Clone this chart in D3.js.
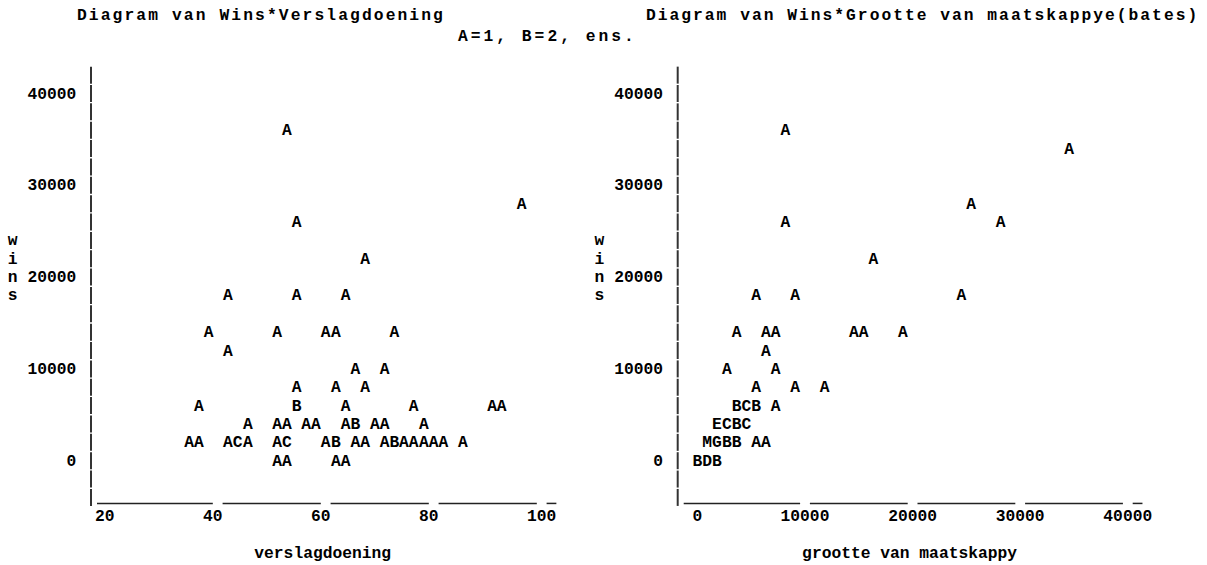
<!DOCTYPE html>
<html>
<head>
<meta charset="utf-8">
<script src="https://cdn.jsdelivr.net/npm/d3@7"></script>
<style>
  body { margin: 0; background: #fff; }
  text { font-family: "Courier New", "Liberation Mono", monospace; font-weight: bold; fill: #000; }
</style>
</head>
<body>
<div id="chart"></div>
<script>
// line printer style plots, letter = number of obs in a cell (A=1, B=2, ...)
var W = 1207, H = 565;
var cw = 9.78;       // character pitch
var fs = 16.3;       // font size giving that pitch

// y axis (wins), shared
var winsTicks = [0, 10000, 20000, 30000, 40000];

// left: wins vs verslagdoening
var verslagTicks = [20, 40, 60, 80, 100];
var verslagX = [52.8, 96.3, 54.6, 67.3, 41.9, 54.6, 63.7,
  38.3, 51.0, 60.0, 61.9, 72.7, 41.9, 65.5, 70.9, 54.6, 61.9, 67.3,
  36.5, 54.6, 63.7, 76.3, 90.8, 92.6,
  45.6, 51.0, 52.8, 56.4, 58.2, 63.7, 65.5, 69.1, 70.9, 78.2,
  34.7, 36.5, 41.9, 43.7, 45.6, 51.0, 52.8, 60.0, 61.9, 65.5, 67.3, 70.9, 72.7, 74.5, 76.3, 78.2, 80.0, 81.8, 85.4,
  51.0, 52.8, 61.9, 63.7];
var verslagWins = [36000, 28000, 26000, 22000, 18000, 18000, 18000,
  14000, 14000, 14000, 14000, 14000, 12000, 10000, 10000, 8000, 8000, 8000,
  6000, 6000, 6000, 6000, 6000, 6000,
  4000, 4000, 4000, 4000, 4000, 4000, 4000, 4000, 4000, 4000,
  2000, 2000, 2000, 2000, 2000, 2000, 2000, 2000, 2000, 2000, 2000, 2000, 2000, 2000, 2000, 2000, 2000, 2000, 2000,
  0, 0, 0, 0];
var verslagCount = [1, 1, 1, 1, 1, 1, 1,
  1, 1, 1, 1, 1, 1, 1, 1, 1, 1, 1,
  1, 2, 1, 1, 1, 1,
  1, 1, 1, 1, 1, 1, 2, 1, 1, 1,
  1, 1, 1, 3, 1, 1, 3, 1, 2, 1, 1, 1, 2, 1, 1, 1, 1, 1, 1,
  1, 1, 1, 1];

// right: wins vs grootte van maatskappy (bates)
var batesTicks = [0, 10000, 20000, 30000, 40000];
var batesX = [8180, 34540, 25450, 8180, 28180, 16360, 5450, 9090, 24540,
  3640, 6360, 7270, 14540, 15450, 19090, 6360, 2730, 7270,
  5450, 9090, 11820, 3640, 4550, 5450, 7270,
  1820, 2730, 3640, 4550, 910, 1820, 2730, 3640, 5450, 6360,
  0, 910, 1820];
var batesWins = [36000, 34000, 28000, 26000, 26000, 22000, 18000, 18000, 18000,
  14000, 14000, 14000, 14000, 14000, 14000, 12000, 10000, 10000,
  8000, 8000, 8000, 6000, 6000, 6000, 6000,
  4000, 4000, 4000, 4000, 2000, 2000, 2000, 2000, 2000, 2000,
  0, 0, 0];
var batesCount = [1, 1, 1, 1, 1, 1, 1, 1, 1,
  1, 1, 1, 1, 1, 1, 1, 1, 1,
  1, 1, 1, 2, 3, 2, 1,
  5, 3, 2, 3, 13, 7, 2, 2, 1, 1,
  2, 4, 2];

var svg = d3.select("#chart")
  .append("svg")
  .attr("width", W)
  .attr("height", H);

var y = d3.scaleLinear().domain([0, 40000]).range([460.7, 93.5]);

// titles
svg.append("text").attr("x", 77).attr("y", 20)
  .attr("font-size", fs).attr("letter-spacing", 2.1)
  .text("Diagram van Wins*Verslagdoening");
svg.append("text").attr("x", 646).attr("y", 20)
  .attr("font-size", fs).attr("letter-spacing", 2.0)
  .text("Diagram van Wins*Grootte van maatskappye(bates)");
svg.append("text").attr("x", 458).attr("y", 41)
  .attr("font-size", fs).attr("letter-spacing", 3)
  .text("A=1, B=2, ens.");

function drawPanel(axisX, xDomain, xRange, xTicks, xs, ws, counts, xTitle) {
  var x = d3.scaleLinear().domain(xDomain).range(xRange);
  var g = svg.append("g");

  // vertical axis made of stacked bars
  var rows = d3.range(-4000, 42001, 2000);
  g.selectAll(".vbar").data(rows).enter().append("line")
    .attr("x1", axisX).attr("x2", axisX)
    .attr("y1", function(d) { return y(d) - 8.5; })
    .attr("y2", function(d) { return y(d) + 8.5; })
    .attr("stroke", "#333").attr("stroke-width", 2);

  // y tick labels
  g.selectAll(".ylab").data(winsTicks).enter().append("text")
    .attr("x", axisX - 1.5 * cw)
    .attr("y", function(d) { return y(d) + 5; })
    .attr("text-anchor", "end")
    .attr("font-size", fs)
    .text(function(d) { return d; });

  // y title, one letter per row
  g.selectAll(".ytitle").data("wins".split("")).enter().append("text")
    .attr("x", axisX - 8 * cw)
    .attr("y", function(d, i) { return y(24000 - i * 2000) + 5; })
    .attr("text-anchor", "middle")
    .attr("font-size", fs)
    .text(function(d) { return d; });

  // horizontal axis: underscores with a blank at each tick
  var lineY = y(-4000) + 6;
  var segs = [];
  var start = axisX + 6;
  xTicks.slice(1).forEach(function(t) {
    segs.push([start, x(t) - cw / 2]);
    start = x(t) + cw / 2;
  });
  segs.push([start, x(xTicks[xTicks.length - 1]) + 1.5 * cw]);
  g.selectAll(".hseg").data(segs).enter().append("line")
    .attr("x1", function(d) { return d[0]; })
    .attr("x2", function(d) { return d[1]; })
    .attr("y1", lineY).attr("y2", lineY)
    .attr("stroke", "#222").attr("stroke-width", 1.5);

  // x tick labels, placed like a printer plot
  g.selectAll(".xlab").data(xTicks).enter().append("text")
    .attr("x", function(d) {
      var len = String(d).length;
      return x(d) - Math.floor(len / 2) * cw - cw / 2;
    })
    .attr("y", y(-6000) + 5)
    .attr("font-size", fs)
    .text(function(d) { return d; });

  // x title
  g.append("text")
    .attr("x", (xRange[0] + xRange[1]) / 2 - 3)
    .attr("y", y(-10000) + 5)
    .attr("text-anchor", "middle")
    .attr("font-size", fs)
    .text(xTitle);

  // points as letters
  var pts = xs.map(function(v, i) { return { x: v, w: ws[i], n: counts[i] }; });
  g.selectAll(".pt").data(pts).enter().append("text")
    .attr("x", function(d) { return x(d.x); })
    .attr("y", function(d) { return y(d.w) + 5; })
    .attr("text-anchor", "middle")
    .attr("font-size", fs)
    .text(function(d) { return String.fromCharCode(64 + d.n); });
}

drawPanel(91, [20, 100], [109.7, 541.7], verslagTicks,
  verslagX, verslagWins, verslagCount, "verslagdoening");
drawPanel(677.7, [0, 40000], [697.4, 1127.8], batesTicks,
  batesX, batesWins, batesCount, "grootte van maatskappy");
</script>
</body>
</html>
